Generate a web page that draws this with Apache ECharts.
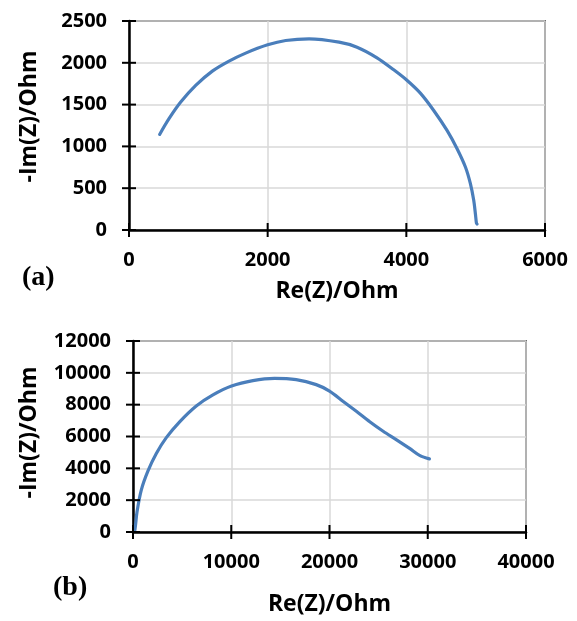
<!DOCTYPE html>
<html>
<head>
<meta charset="utf-8">
<script src="https://cdn.jsdelivr.net/npm/echarts@6/dist/echarts.min.js"></script>
<style>
html,body{margin:0;padding:0;background:#fff;}
#wrap{position:relative;width:577px;height:621px;}
#chartA{position:absolute;left:0;top:0;width:577px;height:310px;}
#chartB{position:absolute;left:0;top:310px;width:577px;height:311px;}
</style>
</head>
<body>
<div id="wrap"><div id="chartA"></div><div id="chartB"></div></div>
<script>
// Panel (a)
var aRe = [442, 577, 746, 962, 1202, 1443, 1683, 2000, 2260, 2597, 3030, 3289, 3577, 3818, 4000, 4202, 4395, 4587, 4732, 4852, 4924, 4972, 4996, 5011, 5020];
var aIm = [1143, 1331, 1530, 1729, 1900, 2020, 2116, 2215, 2267, 2287, 2247, 2187, 2060, 1916, 1797, 1637, 1430, 1191, 972, 753, 554, 355, 195, 84, 72];
// Panel (b)
var bRe = [0, 170, 407, 848, 1525, 2373, 3390, 4746, 6441, 8136, 10034, 12204, 14407, 16611, 18645, 20000, 21365, 22730, 24096, 25461, 26826, 28191, 29215, 30171];
var bIm = [0, 60, 1254, 2647, 3840, 4935, 5930, 6925, 7920, 8617, 9174, 9512, 9652, 9572, 9260, 8855, 8219, 7582, 6925, 6328, 5791, 5234, 4796, 4597];

// Tick values
var aXTickVals = [0, 2000, 4000, 6000];
var aYTickVals = [0, 500, 1000, 1500, 2000, 2500];
var bXTickVals = [0, 10000, 20000, 30000, 40000];
var bYTickVals = [0, 2000, 4000, 6000, 8000, 10000, 12000];

var xTitle = 'Re(Z)/Ohm';
var yTitle = '-Im(Z)/Ohm';
var panelLabels = ['(a)', '(b)'];

function pairs(xs, ys) { return xs.map(function (x, i) { return [x, ys[i]]; }); }
function plain(v) { return String(v); }
function last(a) { return a[a.length - 1]; }

var FONT = 'Open Sans';
function labelStyle(m) { return {margin: m, color: '#000', fontFamily: FONT, fontWeight: 'bold', fontSize: 20, formatter: plain}; }
function nameStyle(pad) { return {color: '#000', fontFamily: FONT, fontWeight: 'bold', fontSize: 23, padding: pad}; }

function tickSeries(pts, horizontal) {
  return {
    type: 'custom', clip: false, silent: true, z: 10, data: pts,
    renderItem: function (params, api) {
      var p = api.coord([api.value(0), api.value(1)]);
      var shape = horizontal
        ? {x1: p[0] - 7, y1: p[1], x2: p[0] + 7, y2: p[1]}
        : {x1: p[0], y1: p[1] - 7, x2: p[0], y2: p[1] + 7};
      return {type: 'line', shape: shape, style: {stroke: '#000', lineWidth: 2}};
    }
  };
}

function buildPanel(el, gridRect, xTicks, yTicks, xs, ys, xGap, yGap, yPad, label, labelPos) {
  var chart = echarts.init(document.getElementById(el), null, {renderer: 'canvas'});
  var option = {
    backgroundColor: '#fff',
    animation: false,
    grid: Object.assign({show: true, borderColor: '#000', borderWidth: 1.5, backgroundColor: 'transparent'}, gridRect),
    xAxis: {
      type: 'value', position: 'bottom', min: xTicks[0], max: last(xTicks), interval: xTicks[1] - xTicks[0],
      name: xTitle, nameLocation: 'middle', nameGap: xGap, nameTextStyle: nameStyle(0),
      axisLine: {show: true, onZero: false, lineStyle: {color: '#000', width: 2.5}},
      axisTick: {show: false},
      axisLabel: labelStyle(20),
      splitLine: {show: true, lineStyle: {color: '#d9d9d9', width: 1.5}}
    },
    yAxis: {
      type: 'value', position: 'left', min: yTicks[0], max: last(yTicks), interval: yTicks[1] - yTicks[0],
      name: yTitle, nameLocation: 'middle', nameGap: yGap, nameTextStyle: nameStyle(yPad),
      axisLine: {show: true, onZero: false, lineStyle: {color: '#000', width: 2.5}},
      axisTick: {show: false},
      axisLabel: labelStyle(22),
      splitLine: {show: true, lineStyle: {color: '#d9d9d9', width: 1.5}}
    },
    graphic: [
      {type: 'text', left: labelPos[0], top: labelPos[1], style: {text: label, fill: '#000', font: 'bold 28px "Liberation Serif"'}}
    ],
    series: [
      {type: 'line', data: pairs(xs, ys), smooth: 0.3, symbol: 'none',
       lineStyle: {color: '#4a7ebb', width: 3.2, cap: 'round'}, itemStyle: {color: '#4a7ebb'}},
      tickSeries(xTicks.map(function (v) { return [v, 0]; }), false),
      tickSeries(yTicks.map(function (v) { return [0, v]; }), true)
    ]
  };
  chart.setOption(option);
}

buildPanel('chartA', {left: 129, top: 21, width: 416, height: 209},
  aXTickVals, aYTickVals, aRe, aIm, 50, 88, [0, 0, 0, 18], panelLabels[0], [22, 264]);
buildPanel('chartB', {left: 133, top: 31, width: 393, height: 200.5},
  bXTickVals, bYTickVals, bRe, bIm, 61, 92, [0, 0, 0, 8], panelLabels[1], [53, 264]);
</script>
</body>
</html>
